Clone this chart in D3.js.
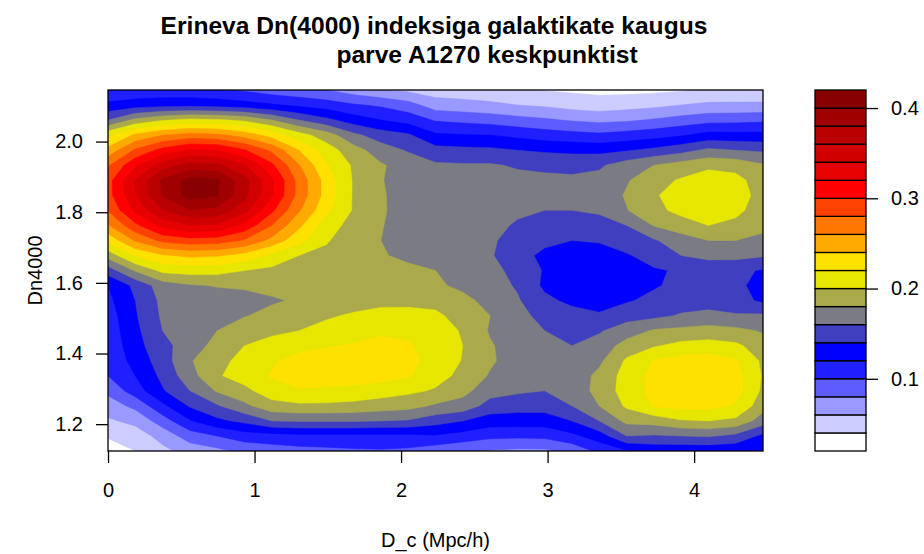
<!DOCTYPE html>
<html lang="et">
<head>
<meta charset="UTF-8">
<title>Dn(4000) vs D_c</title>
<script src="https://cdn.jsdelivr.net/npm/d3@7"></script>
<style>
  body { margin: 0; background: #fff; }
  text { font-family: "Liberation Sans", Arial, sans-serif; fill: #000; }
</style>
</head>
<body>
<svg width="924" height="554"></svg>
<script>
// density grid: x = D_c (Mpc/h), y = Dn4000; rows listed from top (high Dn4000) to bottom
var xGrid = [0, 0.186, 0.3725, 0.559, 0.745, 0.931, 1.1175, 1.304, 1.49, 1.676, 1.8625, 2.049, 2.235,
             2.421, 2.6075, 2.794, 2.98, 3.166, 3.3525, 3.539, 3.725, 3.911, 4.0975, 4.284, 4.47];
var yGrid = [2.146, 2.103, 2.061, 2.018, 1.976, 1.933, 1.890, 1.848, 1.805, 1.762, 1.720, 1.677, 1.635,
             1.592, 1.550, 1.507, 1.465, 1.422, 1.379, 1.337, 1.294, 1.252, 1.209, 1.167, 1.124];

var densityRows = [
  [0.102, 0.105, 0.106, 0.105, 0.102, 0.097, 0.090, 0.085, 0.080, 0.070, 0.062, 0.056, 0.050, 0.049, 0.047, 0.043, 0.039, 0.037, 0.035, 0.035, 0.036, 0.038, 0.042, 0.044, 0.045],
  [0.125, 0.130, 0.133, 0.134, 0.132, 0.128, 0.122, 0.116, 0.110, 0.102, 0.097, 0.088, 0.070, 0.067, 0.064, 0.060, 0.057, 0.052, 0.049, 0.052, 0.055, 0.060, 0.064, 0.064, 0.064],
  [0.160, 0.185, 0.198, 0.205, 0.203, 0.196, 0.180, 0.160, 0.145, 0.130, 0.120, 0.112, 0.098, 0.095, 0.092, 0.087, 0.083, 0.078, 0.075, 0.077, 0.082, 0.088, 0.093, 0.094, 0.096],
  [0.215, 0.244, 0.260, 0.268, 0.265, 0.252, 0.232, 0.208, 0.190, 0.165, 0.150, 0.143, 0.123, 0.121, 0.120, 0.115, 0.110, 0.107, 0.104, 0.108, 0.112, 0.118, 0.127, 0.126, 0.126],
  [0.247, 0.283, 0.307, 0.323, 0.320, 0.302, 0.276, 0.240, 0.210, 0.188, 0.170, 0.158, 0.147, 0.145, 0.144, 0.140, 0.137, 0.135, 0.134, 0.138, 0.145, 0.153, 0.164, 0.160, 0.157],
  [0.277, 0.316, 0.350, 0.368, 0.364, 0.342, 0.304, 0.261, 0.222, 0.197, 0.182, 0.172, 0.163, 0.162, 0.162, 0.158, 0.156, 0.155, 0.157, 0.170, 0.180, 0.188, 0.196, 0.193, 0.182],
  [0.292, 0.341, 0.383, 0.408, 0.403, 0.368, 0.323, 0.273, 0.232, 0.198, 0.181, 0.172, 0.168, 0.167, 0.166, 0.165, 0.164, 0.163, 0.166, 0.178, 0.193, 0.202, 0.209, 0.206, 0.190],
  [0.292, 0.339, 0.381, 0.408, 0.401, 0.366, 0.322, 0.273, 0.232, 0.198, 0.182, 0.172, 0.170, 0.168, 0.166, 0.165, 0.164, 0.163, 0.167, 0.182, 0.198, 0.208, 0.214, 0.210, 0.192],
  [0.281, 0.324, 0.360, 0.380, 0.374, 0.347, 0.304, 0.262, 0.225, 0.198, 0.182, 0.173, 0.170, 0.167, 0.165, 0.163, 0.160, 0.160, 0.163, 0.179, 0.195, 0.205, 0.210, 0.205, 0.190],
  [0.258, 0.295, 0.327, 0.340, 0.337, 0.314, 0.280, 0.244, 0.210, 0.192, 0.181, 0.172, 0.170, 0.168, 0.165, 0.158, 0.152, 0.148, 0.152, 0.160, 0.181, 0.192, 0.200, 0.195, 0.185],
  [0.226, 0.262, 0.285, 0.292, 0.290, 0.278, 0.254, 0.226, 0.202, 0.188, 0.180, 0.172, 0.168, 0.166, 0.163, 0.152, 0.145, 0.140, 0.142, 0.150, 0.158, 0.170, 0.180, 0.180, 0.175],
  [0.188, 0.222, 0.238, 0.244, 0.242, 0.233, 0.215, 0.200, 0.195, 0.190, 0.182, 0.175, 0.170, 0.165, 0.162, 0.148, 0.135, 0.128, 0.130, 0.138, 0.148, 0.160, 0.165, 0.166, 0.162],
  [0.150, 0.182, 0.205, 0.208, 0.207, 0.200, 0.195, 0.190, 0.190, 0.190, 0.188, 0.185, 0.180, 0.175, 0.165, 0.155, 0.138, 0.125, 0.125, 0.128, 0.138, 0.142, 0.148, 0.145, 0.138],
  [0.120, 0.145, 0.170, 0.178, 0.181, 0.182, 0.185, 0.187, 0.190, 0.190, 0.190, 0.188, 0.183, 0.176, 0.168, 0.158, 0.136, 0.123, 0.123, 0.127, 0.138, 0.145, 0.150, 0.145, 0.132],
  [0.115, 0.140, 0.165, 0.170, 0.172, 0.175, 0.178, 0.182, 0.188, 0.193, 0.195, 0.196, 0.195, 0.185, 0.174, 0.162, 0.145, 0.135, 0.130, 0.138, 0.145, 0.150, 0.152, 0.148, 0.136],
  [0.110, 0.138, 0.163, 0.170, 0.175, 0.179, 0.185, 0.190, 0.198, 0.202, 0.206, 0.205, 0.203, 0.194, 0.180, 0.165, 0.155, 0.148, 0.143, 0.152, 0.155, 0.162, 0.165, 0.162, 0.163],
  [0.108, 0.135, 0.160, 0.168, 0.180, 0.190, 0.196, 0.200, 0.205, 0.210, 0.217, 0.216, 0.210, 0.198, 0.178, 0.168, 0.160, 0.155, 0.158, 0.170, 0.182, 0.185, 0.188, 0.185, 0.178],
  [0.106, 0.132, 0.155, 0.168, 0.188, 0.200, 0.207, 0.213, 0.218, 0.222, 0.225, 0.222, 0.212, 0.200, 0.182, 0.170, 0.163, 0.160, 0.168, 0.188, 0.198, 0.206, 0.208, 0.204, 0.190],
  [0.104, 0.127, 0.150, 0.178, 0.195, 0.205, 0.217, 0.228, 0.232, 0.235, 0.235, 0.226, 0.212, 0.199, 0.183, 0.170, 0.165, 0.165, 0.176, 0.203, 0.221, 0.228, 0.230, 0.222, 0.196],
  [0.100, 0.120, 0.145, 0.172, 0.198, 0.208, 0.222, 0.230, 0.232, 0.232, 0.228, 0.222, 0.207, 0.195, 0.178, 0.168, 0.165, 0.168, 0.185, 0.208, 0.226, 0.236, 0.238, 0.228, 0.198],
  [0.085, 0.110, 0.138, 0.160, 0.182, 0.195, 0.210, 0.218, 0.216, 0.213, 0.209, 0.204, 0.198, 0.186, 0.168, 0.163, 0.160, 0.165, 0.188, 0.208, 0.226, 0.236, 0.238, 0.228, 0.196],
  [0.070, 0.085, 0.115, 0.142, 0.158, 0.175, 0.193, 0.196, 0.196, 0.194, 0.190, 0.187, 0.177, 0.172, 0.152, 0.148, 0.148, 0.160, 0.180, 0.203, 0.222, 0.226, 0.226, 0.218, 0.188],
  [0.057, 0.065, 0.090, 0.118, 0.135, 0.145, 0.160, 0.162, 0.162, 0.162, 0.160, 0.158, 0.148, 0.140, 0.130, 0.130, 0.130, 0.140, 0.160, 0.185, 0.188, 0.198, 0.200, 0.195, 0.170],
  [0.042, 0.050, 0.067, 0.090, 0.100, 0.110, 0.112, 0.115, 0.115, 0.115, 0.115, 0.115, 0.118, 0.112, 0.105, 0.104, 0.105, 0.115, 0.130, 0.160, 0.158, 0.160, 0.162, 0.155, 0.135],
  [0.030, 0.040, 0.055, 0.068, 0.075, 0.085, 0.090, 0.093, 0.095, 0.097, 0.098, 0.096, 0.088, 0.082, 0.078, 0.076, 0.076, 0.085, 0.105, 0.118, 0.125, 0.125, 0.125, 0.124, 0.122]
];

var levels = [0.02, 0.04, 0.06, 0.08, 0.10, 0.12, 0.14, 0.16, 0.18, 0.20, 0.22,
              0.24, 0.26, 0.28, 0.30, 0.32, 0.34, 0.36, 0.38, 0.40, 0.42];
var palette = ["#ffffff", "#ccccff", "#9999ff", "#5c5cff", "#1f1fff", "#0000ff", "#3f3fbf",
               "#7b7b84", "#aaaa4c", "#e6e600", "#ffe100", "#ffaa00", "#ff7700", "#ff4000",
               "#ff0000", "#e60000", "#d00000", "#b80000", "#a00000", "#880000"];

var xTicks = [0, 1, 2, 3, 4];
var yTicks = [1.2, 1.4, 1.6, 1.8, 2.0];
var keyTicks = [0.1, 0.2, 0.3, 0.4];

var svg = d3.select("svg");
var plotL = 108, plotR = 763, plotT = 90, plotB = 451;

var x = d3.scaleLinear().domain([0, 4.47]).range([plotL, plotR]);
var y = d3.scaleLinear().domain([1.124, 2.146]).range([plotB, plotT]);

var nx = xGrid.length, ny = yGrid.length;
var values = [].concat.apply([], densityRows);

// contour coords: grid point i sits at i + 0.5
var stepX = (x(xGrid[nx - 1]) - x(xGrid[0])) / (nx - 1);
var stepY = (y(yGrid[ny - 1]) - y(yGrid[0])) / (ny - 1);
var gridToPx = d3.geoTransform({
  point: function(cx, cy) {
    this.stream.point(x(xGrid[0]) + (cx - 0.5) * stepX, y(yGrid[0]) + (cy - 0.5) * stepY);
  }
});
var path = d3.geoPath(gridToPx);

var contours = d3.contours().size([nx, ny]).thresholds(levels.slice(0, -1))(values);

svg.append("clipPath").attr("id", "plotclip")
  .append("rect").attr("x", plotL).attr("y", plotT)
  .attr("width", plotR - plotL).attr("height", plotB - plotT);

svg.append("g").attr("clip-path", "url(#plotclip)")
  .selectAll("path")
  .data(contours)
  .enter().append("path")
  .attr("d", path)
  .attr("fill", function(d, i) { return palette[i]; })
  .attr("stroke", function(d, i) { return palette[i]; })
  .attr("stroke-width", 0.5);

// plot frame
svg.append("rect").attr("x", plotL).attr("y", plotT)
  .attr("width", plotR - plotL).attr("height", plotB - plotT)
  .attr("fill", "none").attr("stroke", "#000").attr("stroke-width", 1.3);

var xAxis = svg.append("g")
  .attr("transform", "translate(0," + plotB + ")")
  .call(d3.axisBottom(x).tickValues(xTicks).tickSize(12).tickPadding(20).tickFormat(d3.format("d")));
var yAxis = svg.append("g")
  .attr("transform", "translate(" + plotL + ",0)")
  .call(d3.axisLeft(y).tickValues(yTicks).tickSize(12).tickPadding(13).tickFormat(d3.format(".1f")));

[xAxis, yAxis].forEach(function(a) {
  a.select(".domain").remove();
  a.selectAll(".tick line").attr("stroke", "#000").attr("stroke-width", 1.3);
  a.selectAll(".tick text").attr("font-size", 20).attr("font-family", null);
});

// colour key
var k = d3.scaleLinear().domain([0.02, 0.42]).range([plotB, plotT]);
var keyL = 815, keyR = 866;

svg.append("g").selectAll("rect")
  .data(palette)
  .enter().append("rect")
  .attr("x", keyL)
  .attr("y", function(d, i) { return k(levels[i + 1]); })
  .attr("width", keyR - keyL)
  .attr("height", function(d, i) { return k(levels[i]) - k(levels[i + 1]); })
  .attr("fill", function(d) { return d; })
  .attr("stroke", "#000").attr("stroke-width", 1.3);

var kAxis = svg.append("g")
  .attr("transform", "translate(" + keyR + ",0)")
  .call(d3.axisRight(k).tickValues(keyTicks).tickSize(12).tickPadding(13).tickFormat(d3.format(".1f")));
kAxis.select(".domain").remove();
kAxis.selectAll(".tick line").attr("stroke", "#000").attr("stroke-width", 1.3);
kAxis.selectAll(".tick text").attr("font-size", 20).attr("font-family", null);

// titles
svg.append("text").attr("x", 434).attr("y", 34).attr("text-anchor", "middle")
  .attr("font-size", 24.6).attr("font-weight", "bold")
  .text("Erineva Dn(4000) indeksiga galaktikate kaugus");
svg.append("text").attr("x", 487).attr("y", 63).attr("text-anchor", "middle")
  .attr("font-size", 24.6).attr("font-weight", "bold")
  .text("parve A1270 keskpunktist");

svg.append("text").attr("x", (plotL + plotR) / 2).attr("y", 547).attr("text-anchor", "middle")
  .attr("font-size", 20).text("D_c (Mpc/h)");
svg.append("text").attr("transform", "translate(42," + (plotT + plotB) / 2 + ") rotate(-90)")
  .attr("text-anchor", "middle").attr("font-size", 20).text("Dn4000");
</script>
</body>
</html>
